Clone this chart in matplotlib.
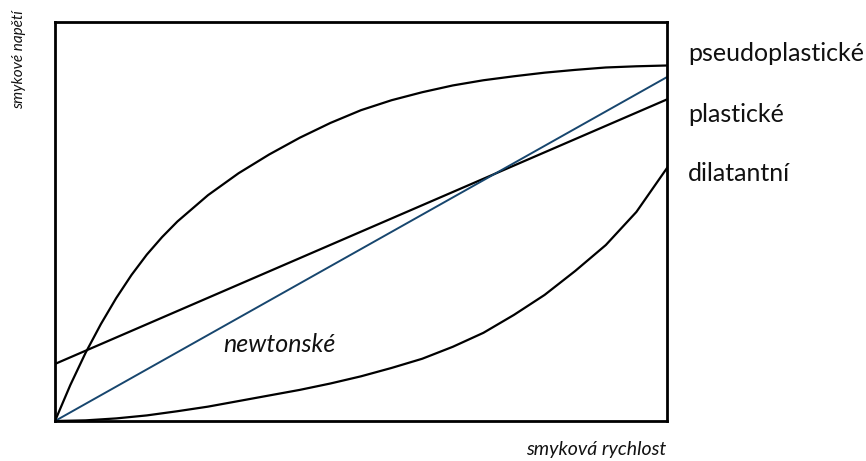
import matplotlib
matplotlib.use("Agg")
import matplotlib.pyplot as plt

# Flow curves (shear rate 0..1, shear stress 0..1)
pseudo_x = [0, 0.025, 0.05, 0.075, 0.1, 0.125, 0.15, 0.175, 0.2, 0.25, 0.3,
            0.35, 0.4, 0.45, 0.5, 0.55, 0.6, 0.65, 0.7, 0.75, 0.8, 0.85,
            0.9, 0.95, 1.0]
pseudo_y = [0, 0.090, 0.171, 0.243, 0.308, 0.366, 0.417, 0.461, 0.500, 0.566,
            0.621, 0.668, 0.710, 0.747, 0.779, 0.804, 0.824, 0.841, 0.854,
            0.864, 0.873, 0.880, 0.886, 0.889, 0.891]

plastic_x = [0, 1.0]
plastic_y = [0.143, 0.806]

newton_x = [0, 1.0]
newton_y = [0, 0.862]

dilat_x = [0, 0.05, 0.1, 0.15, 0.2, 0.25, 0.3, 0.35, 0.4, 0.45, 0.5, 0.55,
           0.6, 0.65, 0.7, 0.75, 0.8, 0.85, 0.9, 0.95, 1.0]
dilat_y = [0, 0.0016, 0.0065, 0.014, 0.0245, 0.036, 0.050, 0.064, 0.078,
           0.094, 0.112, 0.133, 0.156, 0.186, 0.221, 0.266, 0.316, 0.376,
           0.441, 0.524, 0.634]

labels = ["pseudoplastické", "plastické", "dilatantní"]
label_y = [0.902, 0.749, 0.601]

plt.rcParams['font.family'] = ['Lato', 'DejaVu Sans']

fig = plt.figure(figsize=(8.66, 4.61), dpi=100)
ax = fig.add_axes([55 / 866, 40 / 461, 612 / 866, 399 / 461])

ax.plot(pseudo_x, pseudo_y, color='black', lw=1.6)
ax.plot(plastic_x, plastic_y, color='black', lw=1.6)
ax.plot(dilat_x, dilat_y, color='black', lw=1.6)
ax.plot(newton_x, newton_y, color='#17466e', lw=1.4)

ax.set_xlim(0, 1)
ax.set_ylim(0, 1)
ax.set_xticks([])
ax.set_yticks([])
for s in ax.spines.values():
    s.set_linewidth(2)
    s.set_color('black')

# curve names on the right
for txt, y in zip(labels, label_y):
    ax.text(1.034, y, txt, transform=ax.transAxes, fontsize=18,
            ha='left', va='baseline', color='#111111')

ax.text(0.275, 0.173, "newtonské", fontsize=18, style='italic',
        ha='left', va='baseline', color='#111111')

ax.text(0.770, -0.085, "smyková rychlost", transform=ax.transAxes,
        fontsize=14, style='italic', ha='left', va='baseline', color='#111111')
fig.text(19 / 866, 1 - 60 / 461, "smykové napětí", rotation=90, fontsize=11,
         style='italic', ha='center', va='center', color='#111111')

fig.savefig("out.png", dpi=100, facecolor='white')
